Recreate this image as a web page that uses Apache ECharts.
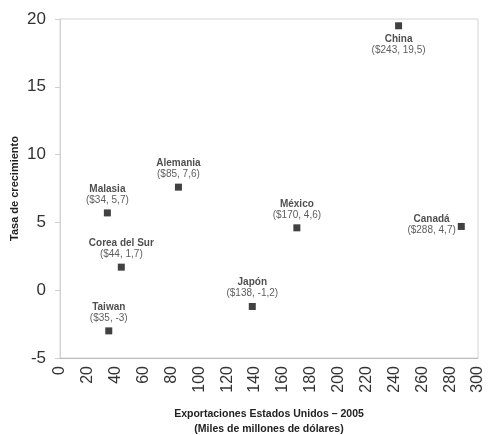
<!DOCTYPE html>
<html>
<head>
<meta charset="utf-8">
<script src="https://cdn.jsdelivr.net/npm/echarts@6/dist/echarts.min.js"></script>
<style>
  html, body { margin: 0; padding: 0; background: #fff; }
  #chartContainer { width: 494px; height: 435px; }
</style>
</head>
<body>
<div id="chartContainer"></div>
<script>
const countries = ['China', 'Alemania', 'Malasia', 'México', 'Canadá', 'Corea del Sur', 'Japón', 'Taiwan'];
const exports2005 = [243, 85, 34, 170, 288, 44, 138, 35];
const growthRate = [19.5, 7.6, 5.7, 4.6, 4.7, 1.7, -1.2, -3];
const growthText = ['19,5', '7,6', '5,7', '4,6', '4,7', '1,7', '-1,2', '-3'];

// where each label sits relative to its point
const labelPlacement = {
    'China': { position: 'bottom', distance: 4 },
    'Canadá': { position: 'left', distance: 2, align: 'right', offset: [0, -2] }
};

let chart = null;

document.addEventListener('DOMContentLoaded', function() {
    chart = echarts.init(document.getElementById('chartContainer'));
    updateChart();
});

function updateChart() {
    const points = countries.map((name, i) => {
        const place = labelPlacement[name] || { position: 'top', distance: 4 };
        return {
            name: name,
            value: [exports2005[i], growthRate[i]],
            label: Object.assign({
                formatter: `{a|${name}}\n{b|($${exports2005[i]}, ${growthText[i]})}`
            }, place)
        };
    });

    const option = {
        animation: false,
        textStyle: { fontFamily: 'Liberation Sans, Arial, sans-serif' },
        grid: {
            left: 60, right: 16, top: 19, bottom: 77,
            outerBoundsMode: 'none', containLabel: false,
            show: true, borderColor: '#d4d4d4', borderWidth: 1
        },
        xAxis: {
            type: 'value',
            min: 0,
            max: 300,
            interval: 20,
            name: 'Exportaciones Estados Unidos – 2005\n(Miles de millones de dólares)',
            nameLocation: 'middle',
            nameGap: 49,
            nameMoveOverlap: false,
            nameTextStyle: { fontSize: 10.5, fontWeight: 'bold', color: '#222', lineHeight: 15 },
            axisLine: { show: true, onZero: false, lineStyle: { color: '#bdbdbd' } },
            axisTick: { show: false },
            axisLabel: { rotate: 90, fontSize: 16, color: '#333', margin: 8 },
            splitLine: { show: false }
        },
        yAxis: {
            type: 'value',
            min: -5,
            max: 20,
            interval: 5,
            name: 'Tasa de crecimiento',
            nameLocation: 'middle',
            nameGap: 40,
            nameMoveOverlap: false,
            nameTextStyle: { fontSize: 11, fontWeight: 'bold', color: '#222' },
            axisLine: { show: true, lineStyle: { color: '#d4d4d4' } },
            axisTick: { show: true, length: 5, lineStyle: { color: '#cfcfcf' } },
            axisLabel: { fontSize: 17, color: '#333', margin: 14 },
            splitLine: { show: false }
        },
        series: [{
            type: 'scatter',
            symbol: 'rect',
            symbolSize: 7,
            itemStyle: { color: '#111' },
            label: {
                show: true,
                color: '#222',
                align: 'center',
                rich: {
                    a: { fontSize: 10, fontWeight: 'bold', color: '#222', lineHeight: 11, align: 'center' },
                    b: { fontSize: 10, color: '#333', lineHeight: 11, align: 'center' }
                }
            },
            data: points
        }]
    };

    chart.setOption(option, true);
}
</script>
</body>
</html>
